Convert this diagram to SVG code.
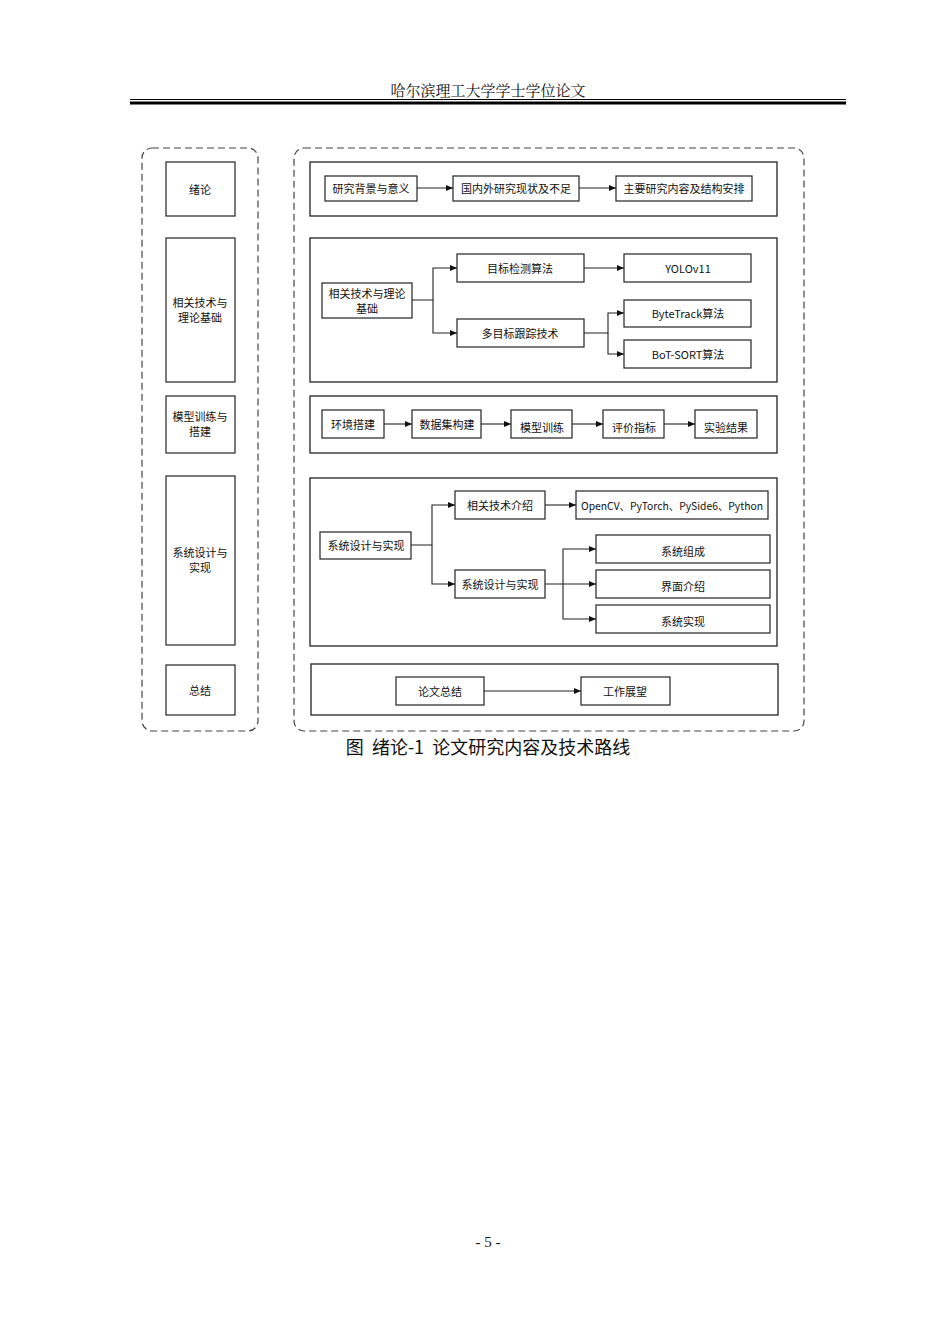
<svg xmlns="http://www.w3.org/2000/svg" width="950" height="1342" viewBox="0 0 950 1342">
<defs>
<style>
.b{fill:#fff;stroke:#222;stroke-width:1.2}
.p{fill:none;stroke:#222;stroke-width:1.3}
.d{fill:none;stroke:#444;stroke-width:1.2;stroke-dasharray:7,4}
text{font-family:"Noto Sans CJK SC",sans-serif;font-size:11px;fill:#111;text-anchor:middle;dominant-baseline:central}
.c path,.c line{fill:none;stroke:#222;stroke-width:1.1}
</style>
<marker id="a" markerWidth="8" markerHeight="8" refX="7" refY="4" orient="auto" markerUnits="userSpaceOnUse"><path d="M0,1 L7,4 L0,7z" fill="#111"/></marker>
</defs>
<rect width="950" height="1342" fill="#fff"/>
<text x="488" y="89" style="font-family:'Noto Serif CJK SC','Liberation Serif','Noto Sans CJK SC',serif;font-size:15px">哈尔滨理工大学学士学位论文</text>
<line x1="130" y1="99.5" x2="846" y2="99.5" stroke="#000" stroke-width="1"/>
<line x1="130" y1="103" x2="846" y2="103" stroke="#000" stroke-width="3"/>
<rect class="d" x="142" y="148" width="116" height="583" rx="10"/>
<rect class="d" x="294" y="148" width="510" height="583" rx="10"/>
<g id="left">
<g id="l1"><rect class="b" x="166" y="162" width="69" height="54"/><text x="200" y="189">绪论</text></g>
<g id="l2"><rect class="b" x="166" y="238" width="69" height="144"/><text x="200" y="302">相关技术与</text><text x="200" y="317">理论基础</text></g>
<g id="l3"><rect class="b" x="166" y="396" width="69" height="57"/><text x="200" y="416">模型训练与</text><text x="200" y="431">搭建</text></g>
<g id="l4"><rect class="b" x="166" y="476" width="69" height="169"/><text x="200" y="552">系统设计与</text><text x="200" y="567">实现</text></g>
<g id="l5"><rect class="b" x="166" y="665" width="69" height="50"/><text x="200" y="690">总结</text></g>
</g>
<g id="panels">
<rect class="p" x="310" y="162" width="467" height="54"/>
<rect class="p" x="310" y="238" width="467" height="144"/>
<rect class="p" x="310" y="396" width="467" height="57"/>
<rect class="p" x="310" y="478" width="467" height="168"/>
<rect class="p" x="311" y="664" width="467" height="51"/>
</g>
<g class="c" id="connectors">
<line x1="417" y1="188" x2="453" y2="188" marker-end="url(#a)"/>
<line x1="579" y1="188" x2="616" y2="188" marker-end="url(#a)"/>
<path d="M412,300 H433 V268 H457" marker-end="url(#a)"/>
<path d="M433,300 V333 H457" marker-end="url(#a)"/>
<line x1="584" y1="268" x2="624" y2="268" marker-end="url(#a)"/>
<path d="M584,333 H608 V313 H624" marker-end="url(#a)"/>
<path d="M608,333 V354 H624" marker-end="url(#a)"/>
<line x1="384" y1="424" x2="412" y2="424" marker-end="url(#a)"/>
<line x1="481" y1="424" x2="511" y2="424" marker-end="url(#a)"/>
<line x1="572" y1="424" x2="603" y2="424" marker-end="url(#a)"/>
<line x1="664" y1="424" x2="695" y2="424" marker-end="url(#a)"/>
<path d="M411,545 H432 V505 H455" marker-end="url(#a)"/>
<path d="M432,545 V584 H455" marker-end="url(#a)"/>
<line x1="545" y1="505" x2="576" y2="505" marker-end="url(#a)"/>
<path d="M545,584 H596" marker-end="url(#a)"/>
<path d="M563,584 V549 H596" marker-end="url(#a)"/>
<path d="M563,584 V619 H596" marker-end="url(#a)"/>
<line x1="484" y1="691" x2="581" y2="691" marker-end="url(#a)"/>
</g>
<g id="n1"><rect class="b" x="325" y="176" width="92" height="25"/><text x="371" y="188">研究背景与意义</text></g>
<g id="n2"><rect class="b" x="453" y="176" width="126" height="25"/><text x="516" y="188">国内外研究现状及不足</text></g>
<g id="n3"><rect class="b" x="616" y="176" width="136" height="25"/><text x="684" y="188">主要研究内容及结构安排</text></g>
<g id="n4"><rect class="b" x="322" y="283" width="90" height="35"/><text x="367" y="293">相关技术与理论</text><text x="367" y="308">基础</text></g>
<g id="n5"><rect class="b" x="457" y="254" width="127" height="28"/><text x="520" y="268">目标检测算法</text></g>
<g id="n6"><rect class="b" x="624" y="254" width="127" height="28"/><text x="688" y="268">YOLOv11</text></g>
<g id="n7"><rect class="b" x="457" y="319" width="127" height="28"/><text x="520" y="333">多目标跟踪技术</text></g>
<g id="n8"><rect class="b" x="624" y="300" width="127" height="27"/><text x="688" y="313">ByteTrack算法</text></g>
<g id="n9"><rect class="b" x="624" y="340" width="127" height="28"/><text x="688" y="354">BoT-SORT算法</text></g>
<g id="n10"><rect class="b" x="322" y="410" width="62" height="28"/><text x="353" y="424">环境搭建</text></g>
<g id="n11"><rect class="b" x="412" y="410" width="69" height="28"/><text x="447" y="424">数据集构建</text></g>
<g id="n12"><rect class="b" x="511" y="410" width="61" height="28"/><text x="542" y="427">模型训练</text></g>
<g id="n13"><rect class="b" x="603" y="410" width="61" height="28"/><text x="634" y="427">评价指标</text></g>
<g id="n14"><rect class="b" x="695" y="410" width="62" height="28"/><text x="726" y="427">实验结果</text></g>
<g id="n15"><rect class="b" x="320" y="532" width="91" height="27"/><text x="366" y="545">系统设计与实现</text></g>
<g id="n16"><rect class="b" x="455" y="491" width="90" height="28"/><text x="500" y="505">相关技术介绍</text></g>
<g id="n17"><rect class="b" x="576" y="491" width="192" height="28"/><text x="672" y="505" textLength="182" lengthAdjust="spacingAndGlyphs">OpenCV、PyTorch、PySide6、Python</text></g>
<g id="n18"><rect class="b" x="455" y="570" width="90" height="28"/><text x="500" y="584">系统设计与实现</text></g>
<g id="n19"><rect class="b" x="596" y="535" width="174" height="28"/><text x="683" y="551">系统组成</text></g>
<g id="n20"><rect class="b" x="596" y="570" width="174" height="28"/><text x="683" y="586">界面介绍</text></g>
<g id="n21"><rect class="b" x="596" y="605" width="174" height="28"/><text x="683" y="621">系统实现</text></g>
<g id="n22"><rect class="b" x="396" y="677" width="88" height="28"/><text x="440" y="691">论文总结</text></g>
<g id="n23"><rect class="b" x="581" y="677" width="89" height="28"/><text x="625" y="691">工作展望</text></g>
<text x="488" y="746" xml:space="preserve" style="font-size:18px;white-space:pre">图  绪论-1  论文研究内容及技术路线</text>
<text x="488" y="1242" style="font-family:'Liberation Serif',serif;font-size:15px">- 5 -</text>
</svg>
